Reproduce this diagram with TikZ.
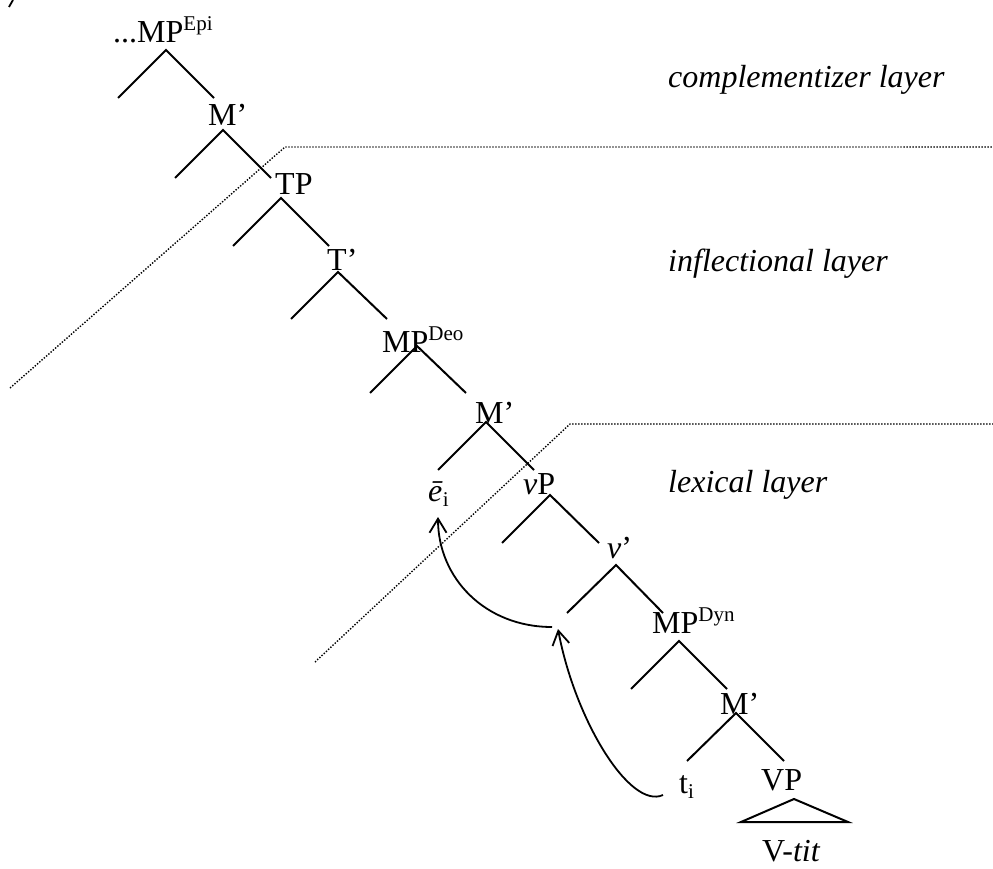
\documentclass[tikz,border=0pt]{standalone}
\usepackage{fontspec}
\setmainfont{Liberation Serif}
\usetikzlibrary{arrows.meta}
\newcommand\supx[1]{\raisebox{12pt}{\fontsize{21}{21}\selectfont #1}}
\newcommand\subx[1]{\raisebox{-5pt}{\fontsize{21}{21}\selectfont #1}}
\begin{document}
\begin{tikzpicture}[x=1pt,y=-1pt,
  lab/.style={inner sep=0pt, anchor=base west, font=\fontsize{32}{38}\selectfont},
  br/.style={line width=2pt},
  layerline/.style={dash pattern=on 1.4pt off 1.6pt, line width=1.4pt},
  mv/.style={line width=1.8pt, -{Straight Barb[length=14pt,width=17pt]}}]
\useasboundingbox (0,0) rectangle (993,869);

% stray mark top-left
\coordinate (m1) at (13,0); \coordinate (m2) at (9,7);
\draw[line width=1.8pt] (m1) -- (m2);

% labels
\node[lab] (mpepi) at (113,43) {...MP\supx{Epi}};
\node[lab] (m1n) at (208,126) {M’};
\node[lab] (tp) at (275,195) {TP};
\node[lab] (tb) at (327,270) {T’};
\node[lab] (mpdeo) at (382,352) {MP\supx{Deo}};
\node[lab] (m2n) at (475,423) {M’};
\node[lab] (ebar) at (428,501) {\textit{ē}\subx{i}};
\node[lab] (vp) at (523,494) {\textit{v}P};
\node[lab] (vb) at (607,558) {\textit{v}’};
\node[lab] (mpdyn) at (652,633) {MP\supx{Dyn}};
\node[lab] (m3n) at (720,714) {M’};
\node[lab] (ti) at (679,793) {t\subx{i}};
\node[lab] (vpp) at (761,790) {VP};
\node[lab] (vtit) at (762,861) {V-\textit{tit}};

\node[lab] (cl) at (668,88) {\textit{complementizer layer}};
\node[lab] (il) at (668,271) {\textit{inflectional layer}};
\node[lab] (ll) at (668,492) {\textit{lexical layer}};

% branches
\coordinate (a1) at (166,50);  \coordinate (l1) at (118,98);  \coordinate (r1) at (214,98);
\coordinate (a2) at (223,130); \coordinate (l2) at (175,178); \coordinate (r2) at (271,178);
\coordinate (a3) at (281,198); \coordinate (l3) at (233,246); \coordinate (r3) at (329,246);
\coordinate (a4) at (338,272); \coordinate (l4) at (291,319); \coordinate (r4) at (387,319);
\coordinate (a5) at (417,346); \coordinate (l5) at (370,393); \coordinate (r5) at (466,393);
\coordinate (a6) at (486,422); \coordinate (l6) at (438,470); \coordinate (r6) at (534,470);
\coordinate (a7) at (550,495); \coordinate (l7) at (502,543); \coordinate (r7) at (599,543);
\coordinate (a8) at (616,565); \coordinate (l8) at (567,613); \coordinate (r8) at (663,613);
\coordinate (a9) at (679,641); \coordinate (l9) at (631,689); \coordinate (r9) at (727,689);
\coordinate (a10) at (736,713); \coordinate (l10) at (687,761); \coordinate (r10) at (784,761);
\foreach \i in {1,...,10} {\draw[br] (l\i) -- (a\i) -- (r\i);}

% triangle
\coordinate (ta) at (794,799); \coordinate (tl) at (741,822); \coordinate (tr) at (848,822);
\draw[br, line join=miter] (ta) -- (tl) -- (tr) -- cycle;

% layer boundaries
\coordinate (d1a) at (10,388); \coordinate (d1b) at (285,147); \coordinate (d1c) at (993,147);
\coordinate (d2a) at (315,662); \coordinate (d2b) at (570,424); \coordinate (d2c) at (993,424);
\draw[layerline] (d1a) -- (d1b) -- (d1c);
\draw[layerline] (d2a) -- (d2b) -- (d2c);

% movement arrows
\coordinate (s1) at (552,627); \coordinate (e1) at (438,517);
\coordinate (s2) at (663,795); \coordinate (e2) at (558,629);
\draw[mv] (s1) .. controls (485,627) and (438,578) .. (e1);
\draw[mv] (s2) .. controls (630,810) and (575,720) .. (e2);
\end{tikzpicture}
\end{document}
